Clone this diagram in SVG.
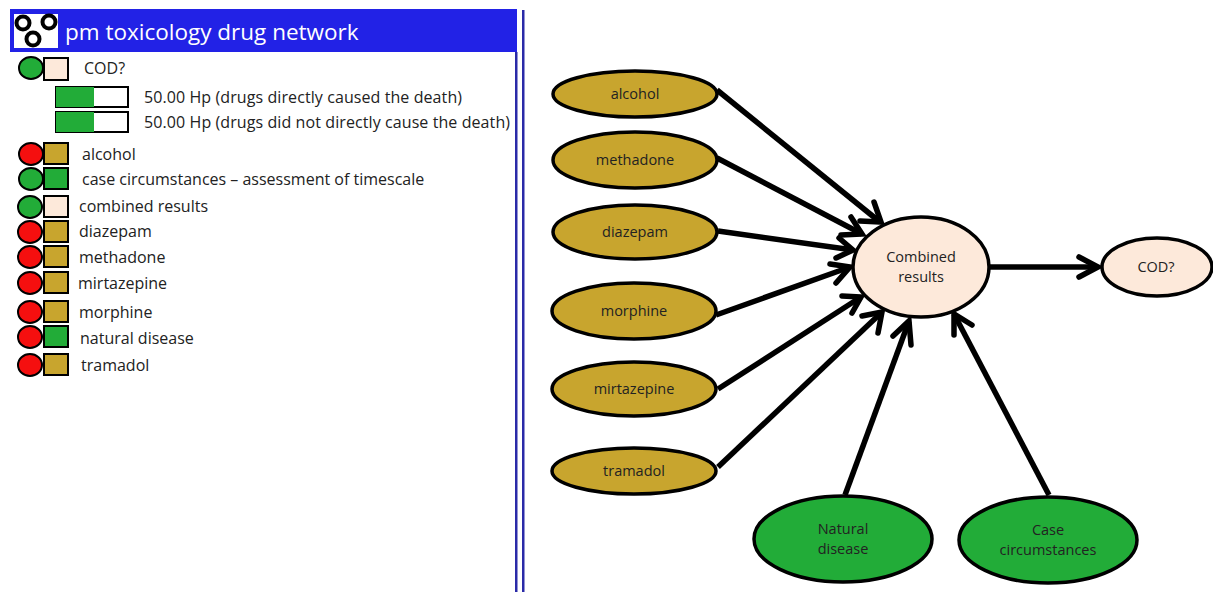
<svg xmlns="http://www.w3.org/2000/svg" width="1213" height="592" viewBox="0 0 1213 592">
<style>
text{font-family:"Open Sans","Liberation Sans",sans-serif;fill:#222}
.l{font-size:16px}
.n{font-size:14.5px;text-anchor:middle}
.e{stroke:#000;stroke-width:3.5}
.g{fill:#c8a52e}.v{fill:#22ac38}.p{fill:#fde9da}.r{fill:#f50f0f}
.d{stroke:#000;stroke-width:2}
.c line{stroke:#000;stroke-width:5.5;fill:none}
.c path{stroke:#000;stroke-width:5.5;fill:none;stroke-linecap:round;stroke-linejoin:miter}
</style>
<rect width="1213" height="592" fill="#fff"/>
<g id="panel">
<rect x="10" y="9" width="507" height="43" fill="#2222e6"/>
<rect x="14" y="14" width="44" height="34" fill="#fff"/>
<g fill="#fff" stroke="#000" stroke-width="4"><circle cx="23" cy="23" r="6.5"/><circle cx="49" cy="22" r="6.5"/><circle cx="33" cy="39" r="6.5"/></g>
<text x="65" y="40" style="font-size:22.5px;fill:#fff">pm toxicology drug network</text>
<rect x="515" y="52" width="2.5" height="540" fill="#2a2aa8"/>
<rect x="522" y="10" width="2.5" height="582" fill="#2a2aa8"/>
</g>
<g id="legend-cod"><ellipse class="v d" cx="31" cy="68" rx="12" ry="11"/><rect class="p d" x="44" y="58" width="24" height="22"/><text class="l" x="84" y="74">COD?</text></g>
<g id="hp1"><rect x="56" y="87" width="72" height="20" fill="#fff" stroke="#000" stroke-width="2"/><rect class="v" x="56" y="87" width="38" height="20"/><text class="l" x="144" y="103" textLength="318">50.00 Hp (drugs directly caused the death)</text></g>
<g id="hp2"><rect x="56" y="112" width="72" height="20" fill="#fff" stroke="#000" stroke-width="2"/><rect class="v" x="56" y="112" width="38" height="20"/><text class="l" x="144" y="128" textLength="366">50.00 Hp (drugs did not directly cause the death)</text></g>
<g id="legend-alcohol"><ellipse class="r d" cx="31" cy="154" rx="12" ry="11"/><rect class="g d" x="44" y="143" width="24" height="21"/><text class="l" x="82" y="160">alcohol</text></g>
<g id="legend-case"><ellipse class="v d" cx="31" cy="179" rx="12" ry="11"/><rect class="v d" x="44" y="168" width="24" height="21"/><text class="l" x="82" y="185">case circumstances – assessment of timescale</text></g>
<g id="legend-combined"><ellipse class="v d" cx="30" cy="207" rx="12" ry="11"/><rect class="p d" x="44" y="196" width="24" height="21"/><text class="l" x="79" y="212">combined results</text></g>
<g id="legend-diazepam"><ellipse class="r d" cx="30" cy="232" rx="12" ry="11"/><rect class="g d" x="44" y="221" width="24" height="21"/><text class="l" x="79" y="237">diazepam</text></g>
<g id="legend-methadone"><ellipse class="r d" cx="30" cy="257" rx="12" ry="11"/><rect class="g d" x="44" y="246" width="24" height="21"/><text class="l" x="79" y="263">methadone</text></g>
<g id="legend-mirtazepine"><ellipse class="r d" cx="30" cy="283" rx="12" ry="11"/><rect class="g d" x="44" y="272" width="24" height="21"/><text class="l" x="78" y="289">mirtazepine</text></g>
<g id="legend-morphine"><ellipse class="r d" cx="30" cy="312" rx="12" ry="11"/><rect class="g d" x="44" y="301" width="24" height="21"/><text class="l" x="79" y="318">morphine</text></g>
<g id="legend-natural"><ellipse class="r d" cx="30" cy="337" rx="12" ry="11"/><rect class="v d" x="44" y="326" width="24" height="21"/><text class="l" x="80" y="344">natural disease</text></g>
<g id="legend-tramadol"><ellipse class="r d" cx="30" cy="365" rx="12" ry="11"/><rect class="g d" x="44" y="354" width="24" height="21"/><text class="l" x="81" y="371">tramadol</text></g>
<g id="connectors" class="c">
<line x1="717" y1="90" x2="880" y2="222"/><path d="M874 202L881 222L860 221"/>
<line x1="717" y1="158" x2="862" y2="234"/><path d="M851 217L862 234L841 235"/>
<line x1="718" y1="231" x2="853" y2="250"/><path d="M839 238L853 250L836 258"/>
<line x1="716" y1="315" x2="850" y2="267"/><path d="M830 264L850 267L836 283"/>
<line x1="718" y1="389" x2="861" y2="297"/><path d="M842 296L861 297L852 313"/>
<line x1="718" y1="467" x2="882" y2="312"/><path d="M862 316L882 312L878 333"/>
<line x1="845" y1="495" x2="909" y2="321"/><path d="M893 336L909 321L911 345"/>
<line x1="1049" y1="495" x2="954" y2="314"/><path d="M954 335L954 314L972 325"/>
<line x1="990" y1="267" x2="1098" y2="267"/><path d="M1079 257L1098 267L1079 277"/>
</g>
<g id="alcohol"><ellipse class="g e" cx="635" cy="94" rx="82" ry="23"/><text class="n" x="635" y="99">alcohol</text></g>
<g id="methadone"><ellipse class="g e" cx="635" cy="160" rx="82" ry="28"/><text class="n" x="635" y="165">methadone</text></g>
<g id="diazepam"><ellipse class="g e" cx="635" cy="232" rx="82" ry="27"/><text class="n" x="635" y="237">diazepam</text></g>
<g id="morphine"><ellipse class="g e" cx="634" cy="311" rx="82" ry="28"/><text class="n" x="634" y="316">morphine</text></g>
<g id="mirtazepine"><ellipse class="g e" cx="634" cy="389" rx="82" ry="27"/><text class="n" x="634" y="394">mirtazepine</text></g>
<g id="tramadol"><ellipse class="g e" cx="634" cy="471" rx="82" ry="23"/><text class="n" x="634" y="476">tramadol</text></g>
<g id="combined"><ellipse class="p e" cx="921" cy="267" rx="68" ry="50"/><text class="n" x="921" y="262">Combined</text><text class="n" x="921" y="282">results</text></g>
<g id="cod"><ellipse class="p e" cx="1157" cy="267" rx="55" ry="29"/><text class="n" x="1156" y="272">COD?</text></g>
<g id="natural"><ellipse class="v e" cx="843" cy="539" rx="89" ry="43"/><text class="n" x="843" y="534">Natural</text><text class="n" x="843" y="554">disease</text></g>
<g id="case"><ellipse class="v e" cx="1048" cy="540" rx="89" ry="43"/><text class="n" x="1048" y="535">Case</text><text class="n" x="1048" y="555">circumstances</text></g>
</svg>
